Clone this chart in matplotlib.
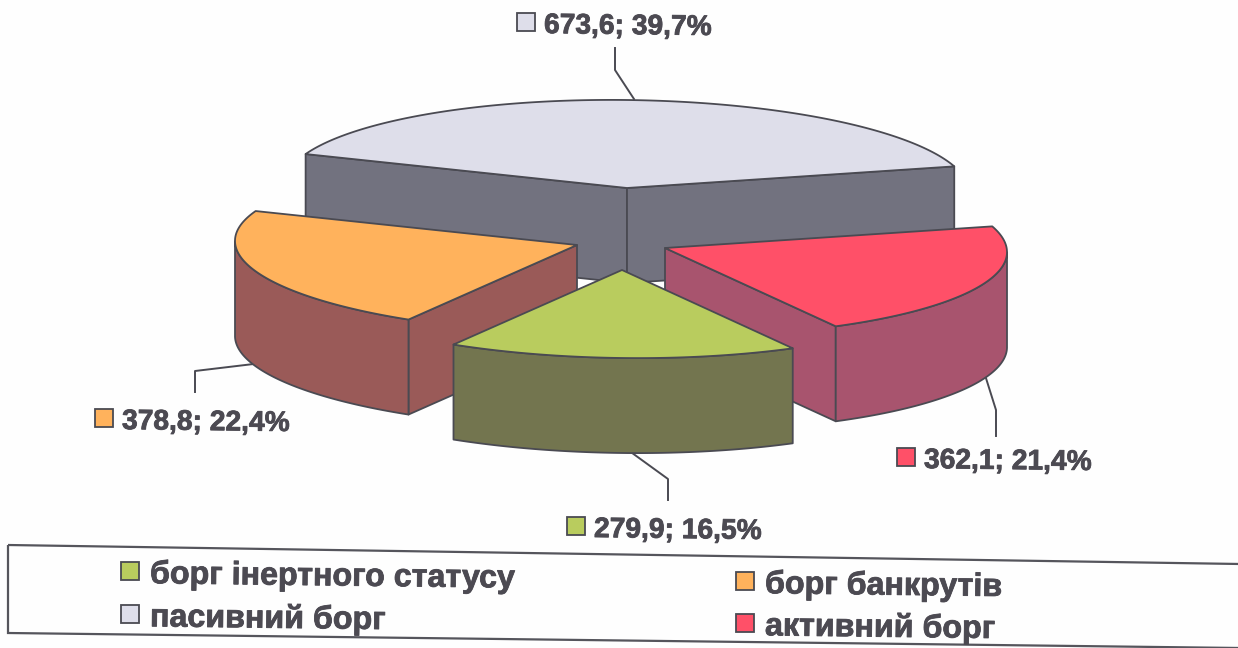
import numpy as np
import matplotlib
matplotlib.use("Agg")
import matplotlib.pyplot as plt
import matplotlib.patheffects as pe
from matplotlib.patches import Polygon, Rectangle

# slices in drawing order round the pie, clockwise from the back left
names = ["пасивний борг", "активний борг", "борг інертного статусу", "борг банкрутів"]
values = [673.6, 362.1, 279.9, 378.8]
percents = [39.7, 21.4, 16.5, 22.4]
top_colors = ["#DEDEEA", "#FF5068", "#B9CC5E", "#FFB25C"]
side_colors = ["#72727F", "#A8546E", "#73754F", "#9A5A58"]

# layout, in pixels of the 1238x648 picture
centers = [(627, 188), (665, 248), (622, 270), (577, 245)]
label_pos = [(526, 22), (906, 457), (576, 526), (104, 418)]
leaders = [
    [(634, 99), (615, 70), (615, 48)],
    [(985, 375), (996, 410), (996, 436)],
    [(628, 450), (668, 479), (668, 500)],
    [(262, 363), (195, 371), (195, 392)],
]
legend_pos = [(130, 614), (745, 623), (130, 571), (745, 581)]  # same order as names
rx, ry, depth = 342, 88, 95
shear = 0.012  # the scan is slightly skewed
start_angle = 160
line_c = "#4a4a52"
text_c = "#4c4a52"
tilt = -0.7
heavy = [pe.withStroke(linewidth=0.6, foreground=text_c)]

plt.rcParams["font.family"] = ["Liberation Sans", "DejaVu Sans"]
fig = plt.figure(figsize=(12.38, 6.48), dpi=100, facecolor="#fefefe")
ax = fig.add_axes([0, 0, 1, 1])
ax.set_xlim(0, 1238)
ax.set_ylim(648, 0)
ax.axis("off")


def rim(c, t):
    t = np.radians(t)
    dx = rx * np.cos(t)
    return np.c_[c[0] + dx, c[1] - ry * np.sin(t) + shear * dx]


def add_poly(pts, color, z):
    ax.add_patch(Polygon(pts, closed=True, facecolor=color, edgecolor=line_c,
                         linewidth=1.3, joinstyle="round", zorder=z))


# angles of the slices follow from the values
sweeps = np.array(values) / sum(values) * 360
starts = start_angle - np.r_[0, np.cumsum(sweeps)[:-1]]

# back slice first, front slice last: 0 gray, 3 orange, 1 red, 2 green
for z, i in enumerate([0, 3, 1, 2]):
    c = centers[i]
    a1 = starts[i]
    a2 = a1 - sweeps[i]
    base = z * 10 + 1
    down = np.array([0, depth])

    # flat cut faces, only those turned towards the viewer
    for a, normal in [(a1, a1 + 90), (a2, a2 - 90)]:
        if np.sin(np.radians(normal)) < 0:
            p = rim(c, np.array([a]))[0]
            add_poly([c, p, p + down, np.array(c) + down], side_colors[i], base)

    # outer wall, the part of the rim at the front
    ts = np.linspace(a1, a2, 200)
    ts = ts[np.sin(np.radians(ts)) <= 0]
    if len(ts) > 1:
        edge = rim(c, ts)
        add_poly(np.vstack([edge, edge[::-1] + down]), side_colors[i], base + 1)

    # top of the slice
    edge = rim(c, np.linspace(a1, a2, 200))
    add_poly(np.vstack([[c], edge]), top_colors[i], base + 2)

# data labels with their leader lines
for i in range(len(values)):
    x, y = label_pos[i]
    ax.add_patch(Rectangle((x - 9, y - 9), 18, 18, facecolor=top_colors[i],
                           edgecolor=line_c, linewidth=1.3, zorder=60))
    txt = f"{values[i]:.1f}; {percents[i]:.1f}%".replace(".", ",")
    ax.text(x + 18, y + 4, txt, fontsize=20.3, fontweight="bold", color=text_c,
            ha="left", va="center", rotation=tilt, rotation_mode="anchor", zorder=60,
            path_effects=heavy)
    pts = np.array(leaders[i])
    ax.plot(pts[:, 0], pts[:, 1], color=line_c, linewidth=1.4, zorder=0.5)

# legend box, skewed like the rest of the scan
ax.add_patch(Polygon([(8, 545), (1240, 564), (1240, 648), (8, 633)], closed=True,
                     facecolor="none", edgecolor="#55555c", linewidth=1.6, zorder=60))
for i, name in enumerate(names):
    x, y = legend_pos[i]
    ax.add_patch(Rectangle((x - 9, y - 9), 18, 18, facecolor=top_colors[i],
                           edgecolor=line_c, linewidth=1.3, zorder=60))
    ax.text(x + 20, y + 4, name, fontsize=23.2, fontweight="bold", color=text_c,
            ha="left", va="center", rotation=tilt, rotation_mode="anchor", zorder=60,
            path_effects=heavy)

fig.savefig("out.png", dpi=100, facecolor=fig.get_facecolor())
